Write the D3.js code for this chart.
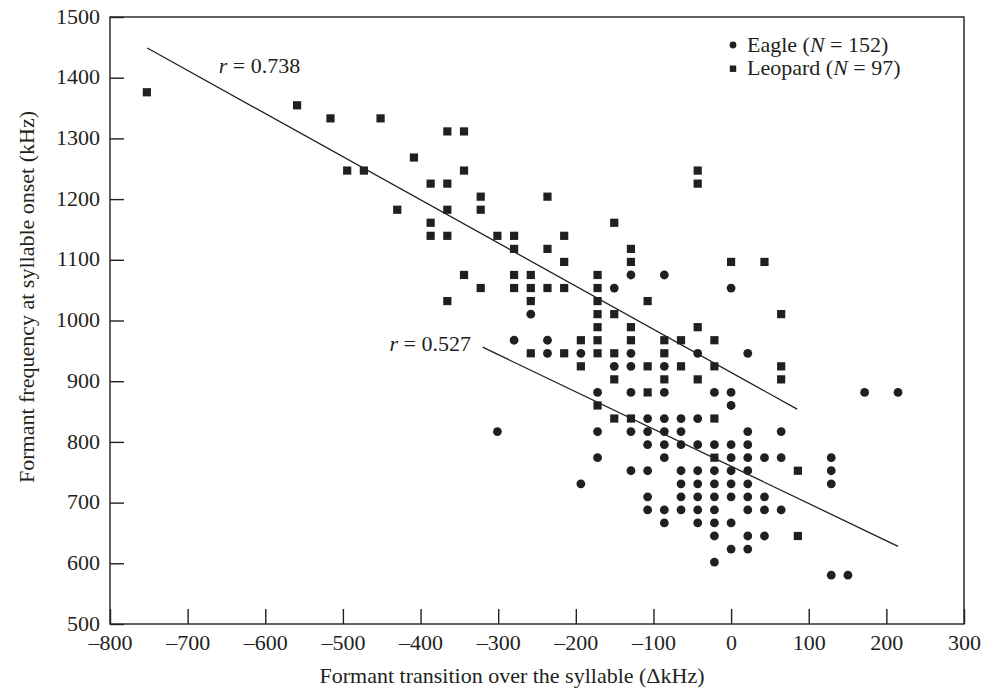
<!DOCTYPE html>
<html>
<head>
<meta charset="utf-8">
<script src="https://cdn.jsdelivr.net/npm/d3@7/dist/d3.min.js"></script>
<style>
  html, body { margin: 0; padding: 0; background: #fff; }
  svg { display: block; }
  text { font-family: "Liberation Serif", "DejaVu Serif", serif; fill: #231f20; }
</style>
</head>
<body>
<svg id="chart" width="984" height="688"></svg>
<script>
// ---- data ----
const xTicks = [-800, -700, -600, -500, -400, -300, -200, -100, 0, 100, 200, 300];
const yTicks = [500, 600, 700, 800, 900, 1000, 1100, 1200, 1300, 1400, 1500];

const eaglePoints = [
  [-129,1075],[-86,1075],
  [-150.5,1053.5],[0,1053.5],
  [-258,1010.5],
  [-279.5,967.5],[-236.5,967.5],
  [-236.5,946],[-193.5,946],[-129,946],[-43,946],[21.5,946],
  [-150.5,924.5],[-129,924.5],[-86,924.5],
  [-172,881.5],[-129,881.5],[-86,881.5],[-21.5,881.5],[0,881.5],[172,881.5],[215,881.5],
  [0,860],
  [-107.5,838.5],[-86,838.5],[-64.5,838.5],[-43,838.5],
  [-301,817],[-172,817],[-129,817],[-107.5,817],[-86,817],[-64.5,817],[21.5,817],[64.5,817],
  [-107.5,795.5],[-86,795.5],[-64.5,795.5],[-43,795.5],[-21.5,795.5],[0,795.5],[21.5,795.5],
  [-172,774],[-86,774],[0,774],[21.5,774],[43,774],[64.5,774],[129,774],
  [-129,752.5],[-107.5,752.5],[-64.5,752.5],[-43,752.5],[-21.5,752.5],[0,752.5],[21.5,752.5],[129,752.5],
  [-193.5,731],[-64.5,731],[-43,731],[-21.5,731],[0,731],[21.5,731],[129,731],
  [-107.5,709.5],[-64.5,709.5],[-43,709.5],[-21.5,709.5],[0,709.5],[21.5,709.5],[43,709.5],
  [-107.5,688],[-86,688],[-64.5,688],[-43,688],[-21.5,688],[21.5,688],[43,688],[64.5,688],
  [-86,666.5],[-43,666.5],[-21.5,666.5],[0,666.5],
  [-21.5,645],[21.5,645],[43,645],
  [0,623.5],[21.5,623.5],
  [-21.5,602],
  [129,580.5],[150.5,580.5]
];

const leopardPoints = [
  [-752.5,1376],
  [-559,1354.5],
  [-516,1333],[-451.5,1333],
  [-365.5,1311.5],[-344,1311.5],
  [-408.5,1268.5],
  [-494.5,1247],[-473,1247],[-344,1247],[-43,1247],
  [-387,1225.5],[-365.5,1225.5],[-43,1225.5],
  [-322.5,1204],[-236.5,1204],
  [-430,1182.5],[-365.5,1182.5],[-322.5,1182.5],
  [-387,1161],[-150.5,1161],
  [-387,1139.5],[-365.5,1139.5],[-301,1139.5],[-279.5,1139.5],[-215,1139.5],
  [-279.5,1118],[-236.5,1118],[-129,1118],
  [-215,1096.5],[-129,1096.5],[0,1096.5],[43,1096.5],
  [-344,1075],[-279.5,1075],[-258,1075],[-172,1075],
  [-322.5,1053.5],[-279.5,1053.5],[-258,1053.5],[-236.5,1053.5],[-215,1053.5],[-172,1053.5],
  [-365.5,1032],[-258,1032],[-172,1032],[-107.5,1032],
  [-172,1010.5],[-150.5,1010.5],[64.5,1010.5],
  [-172,989],[-129,989],[-43,989],
  [-193.5,967.5],[-172,967.5],[-129,967.5],[-86,967.5],[-64.5,967.5],[-21.5,967.5],
  [-258,946],[-215,946],[-172,946],[-150.5,946],[-86,946],
  [-193.5,924.5],[-107.5,924.5],[-64.5,924.5],[-21.5,924.5],[64.5,924.5],
  [-150.5,903],[-86,903],[-43,903],[64.5,903],
  [-107.5,881.5],
  [-172,860],
  [-150.5,838.5],[-129,838.5],[-21.5,838.5],
  [-21.5,774],
  [86,752.5],
  [86,645]
];

// regression lines (end points)
const leopardFit = [[-752, 1449], [85, 854]];
const eagleFit = [[-320, 956], [215, 628]];
const fitLabels = [
  { r: "0.738", x: -660, y: 1408 },
  { r: "0.527", x: -440, y: 950 }
];
const legendItems = [
  { name: "Eagle", n: 152, shape: "circle" },
  { name: "Leopard", n: 97, shape: "square" }
];

// ---- drawing ----
const ink = "#231f20";
const svg = d3.select("#chart");
svg.append("rect").attr("width", 984).attr("height", 688).attr("fill", "#fff");

const x = d3.scaleLinear().domain([-800, 300]).range([110, 964]);
const y = d3.scaleLinear().domain([500, 1500]).range([624, 17]);
const fmt = d => d < 0 ? "\u2013" + Math.abs(d) : String(d);

const xAxis = svg.append("g")
  .attr("transform", `translate(0,${y(500)})`)
  .call(d3.axisBottom(x).tickValues(xTicks).tickFormat(fmt)
    .tickSizeInner(-15).tickSizeOuter(0).tickPadding(10));
const yAxis = svg.append("g")
  .attr("transform", `translate(${x(-800)},0)`)
  .call(d3.axisLeft(y).tickValues(yTicks).tickFormat(d3.format("d"))
    .tickSizeInner(-14).tickSizeOuter(0).tickPadding(10));

[xAxis, yAxis].forEach(g => {
  g.select(".domain").remove();
  g.selectAll(".tick line").attr("stroke", ink).attr("stroke-width", 1.4);
  g.selectAll(".tick text").attr("font-size", 22).attr("font-family", "Liberation Serif").attr("fill", ink);
});
yAxis.selectAll(".tick text").attr("dy", "0.28em");

// frame
svg.append("rect")
  .attr("x", x(-800)).attr("y", y(1500))
  .attr("width", x(300) - x(-800)).attr("height", y(500) - y(1500))
  .attr("fill", "none").attr("stroke", ink).attr("stroke-width", 1.4);

// axis titles
svg.append("text")
  .attr("x", 512).attr("y", 683)
  .attr("text-anchor", "middle").attr("font-size", 22)
  .text("Formant transition over the syllable (\u0394kHz)");
svg.append("text")
  .attr("transform", `translate(34,297) rotate(-90)`)
  .attr("text-anchor", "middle").attr("font-size", 22)
  .text("Formant frequency at syllable onset (kHz)");

// regression lines
const line = d3.line().x(d => x(d[0])).y(d => y(d[1]));
[leopardFit, eagleFit].forEach(f => {
  svg.append("path").attr("d", line(f))
    .attr("fill", "none").attr("stroke", ink).attr("stroke-width", 1.3);
});

// r labels
fitLabels.forEach(l => {
  const t = svg.append("text").attr("x", x(l.x)).attr("y", y(l.y)).attr("font-size", 22);
  t.append("tspan").attr("font-style", "italic").text("r");
  t.append("tspan").text(" = " + l.r);
});

// points
svg.append("g").selectAll("circle").data(eaglePoints).join("circle")
  .attr("cx", d => x(d[0])).attr("cy", d => y(d[1])).attr("r", 4.4).attr("fill", ink);
const sq = 8.2;
svg.append("g").selectAll("rect").data(leopardPoints).join("rect")
  .attr("x", d => x(d[0]) - sq / 2).attr("y", d => y(d[1]) - sq / 2)
  .attr("width", sq).attr("height", sq).attr("fill", ink);

// legend
const lg = svg.append("g").attr("transform", "translate(733,52)");
legendItems.forEach((item, i) => {
  const g = lg.append("g").attr("transform", `translate(0,${i * 23})`);
  if (item.shape === "circle") {
    g.append("circle").attr("cx", 0).attr("cy", -7).attr("r", 3.4).attr("fill", ink);
  } else {
    g.append("rect").attr("x", -3.2).attr("y", -9.5).attr("width", 6.4).attr("height", 6.4).attr("fill", ink);
  }
  const t = g.append("text").attr("x", 14).attr("y", 0).attr("font-size", 22);
  t.append("tspan").text(item.name + " (");
  t.append("tspan").attr("font-style", "italic").text("N");
  t.append("tspan").text(" = " + item.n + ")");
});
</script>
</body>
</html>
